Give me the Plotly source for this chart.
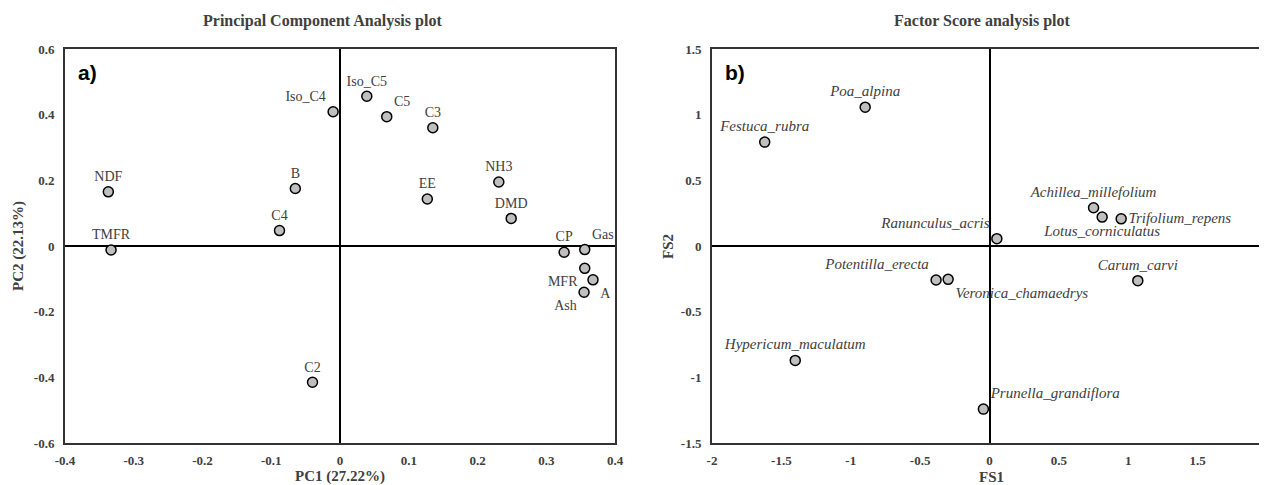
import plotly.graph_objects as go

# ---- Data: PCA loadings (panel a) ----
pca_labels = ["Iso_C4", "Iso_C5", "C5", "C3", "NH3", "EE", "DMD", "NDF", "B", "C4",
              "TMFR", "CP", "Gas", "MFR", "A", "Ash", "C2"]
pc1 = [-0.010, 0.039, 0.068, 0.135, 0.231, 0.127, 0.249, -0.337, -0.065, -0.088,
       -0.333, 0.326, 0.356, 0.356, 0.368, 0.355, -0.040]
pc2 = [0.409, 0.456, 0.394, 0.360, 0.195, 0.143, 0.084, 0.165, 0.175, 0.047,
       -0.012, -0.019, -0.011, -0.068, -0.103, -0.141, -0.415]

# ---- Data: factor scores (panel b) ----
fs_labels = ["Poa_alpina", "Festuca_rubra", "Achillea_millefolium", "Lotus_corniculatus",
             "Trifolium_repens", "Ranunculus_acris", "Potentilla_erecta",
             "Veronica_chamaedrys", "Carum_carvi", "Hypericum_maculatum",
             "Prunella_grandiflora"]
fs1 = [-0.896, -1.62, 0.750, 0.812, 0.949, 0.053, -0.385, -0.298, 1.069, -1.40, -0.044]
fs2 = [1.057, 0.791, 0.291, 0.220, 0.207, 0.056, -0.259, -0.254, -0.264, -0.871, -1.242]

pc_ticks = [-0.4, -0.3, -0.2, -0.1, 0, 0.1, 0.2, 0.3, 0.4]
pc1_ticktext = ["-0.4", "-0.3", "-0.2", "-0.1", "0", "0.1", "0.2", "0.3", "0.4"]
pc2_ticks = [-0.6, -0.4, -0.2, 0, 0.2, 0.4, 0.6]
pc2_ticktext = ["-0.6", "-0.4", "-0.2", "0", "0.2", "0.4", "0.6"]
fs1_ticks = [-2, -1.5, -1, -0.5, 0, 0.5, 1, 1.5, 2]
fs1_ticktext = ["-2", "-1.5", "-1", "-0.5", "0", "0.5", "1", "1.5", "2"]
fs2_ticks = [-1.5, -1, -0.5, 0, 0.5, 1, 1.5]
fs2_ticktext = ["-1.5", "-1", "-0.5", "0", "0.5", "1", "1.5"]

# ---- Styling: label placement ----
pca_textpos = {"Iso_C4": "top left", "Iso_C5": "top center", "C5": "top right",
               "C3": "top center", "NH3": "top center", "EE": "top center",
               "DMD": "top center", "NDF": "top center", "B": "top center",
               "C4": "top center", "TMFR": "top center", "CP": "top center",
               "Gas": "top right", "MFR": "bottom left", "A": "bottom right",
               "Ash": "bottom left", "C2": "top center"}
fs_textpos = {"Poa_alpina": "top center", "Festuca_rubra": "top center",
              "Achillea_millefolium": "top center", "Lotus_corniculatus": "bottom center",
              "Trifolium_repens": "middle right", "Ranunculus_acris": "top left",
              "Potentilla_erecta": "top left", "Veronica_chamaedrys": "bottom right",
              "Carum_carvi": "top center", "Hypericum_maculatum": "top center",
              "Prunella_grandiflora": "top right"}

SERIF = "Liberation Serif"
TXT = "#404040"
marker = dict(size=10, color="#BFBFBF", line=dict(color="black", width=1.5))

# the page body has an 8px margin, so the figure starts at (8, 8) of the window
OFF = 8
W, H = 1267 - OFF, 485 - OFF
MT, MB = 49 - OFF, 42
PH = H - MT - MB


def px(ref_x):
    """Window pixel column -> paper x."""
    return (ref_x - OFF) / W


def py(ref_y):
    """Window pixel row -> paper y."""
    return (H - MB - (ref_y - OFF)) / PH


fig = go.Figure()
fig.add_trace(go.Scatter(
    x=pc1, y=pc2, mode="markers+text", text=pca_labels,
    textposition=[pca_textpos[l] for l in pca_labels],
    textfont=dict(family=SERIF, size=14, color=TXT),
    marker=marker, xaxis="x", yaxis="y", showlegend=False, cliponaxis=False))
fig.add_trace(go.Scatter(
    x=fs1, y=fs2, mode="markers+text", text=["<i>%s</i>" % l for l in fs_labels],
    textposition=[fs_textpos[l] for l in fs_labels],
    textfont=dict(family=SERIF, size=15, color=TXT),
    marker=marker, xaxis="x2", yaxis="y2", showlegend=False, cliponaxis=False))

axis_common = dict(showgrid=False, zeroline=True, zerolinecolor="black", zerolinewidth=1.5,
                   showline=True, linecolor="#333333", linewidth=2, mirror=True,
                   ticks="", automargin=False,
                   tickfont=dict(family=SERIF, size=13, color=TXT, weight="bold"))
xaxis_extra = dict(ticklabelstandoff=4)
yaxis_extra = dict(ticklabelstandoff=6)

fig.update_layout(
    width=W, height=H,
    margin=dict(l=0, r=0, t=MT, b=MB, autoexpand=False),
    paper_bgcolor="white", plot_bgcolor="white",
    xaxis=dict(domain=[px(65), px(615)], range=[-0.4, 0.4], tickvals=pc_ticks,
               ticktext=pc1_ticktext, anchor="y", **axis_common, **xaxis_extra),
    yaxis=dict(domain=[0, 1], range=[-0.6, 0.6], tickvals=pc2_ticks,
               ticktext=pc2_ticktext, anchor="x", **axis_common, **yaxis_extra),
    xaxis2=dict(domain=[px(712), 1.0], range=[-2, 2], tickvals=fs1_ticks,
                ticktext=fs1_ticktext, anchor="y2", **axis_common, **xaxis_extra),
    yaxis2=dict(domain=[0, 1], range=[-1.5, 1.5], tickvals=fs2_ticks,
                ticktext=fs2_ticktext, anchor="x2", **axis_common, **yaxis_extra),
)

title_font = dict(family=SERIF, size=16, color=TXT, weight="bold")
ax_font = dict(family=SERIF, size=15, color=TXT, weight="bold")
panel_font = dict(family="Liberation Sans", size=21, color="black", weight="bold")
anns = [
    dict(text="Principal Component Analysis plot", x=px(322), y=py(21), font=title_font),
    dict(text="Factor Score analysis plot", x=px(982), y=py(21), font=title_font),
    dict(text="PC1 (27.22%)", x=px(340), y=py(477), font=ax_font),
    dict(text="FS1", x=px(991), y=py(477), font=ax_font),
    dict(text="PC2 (22.13%)", x=px(18), y=py(246), font=ax_font, textangle=-90),
    dict(text="FS2", x=px(668), y=py(246), font=ax_font, textangle=-90),
    dict(text="a)", x=px(87), y=py(73), font=panel_font),
    dict(text="b)", x=px(735), y=py(72), font=panel_font),
]
for a in anns:
    a.update(xref="paper", yref="paper", showarrow=False, xanchor="center", yanchor="middle")
fig.update_layout(annotations=anns)

fig.write_html("out.html")
